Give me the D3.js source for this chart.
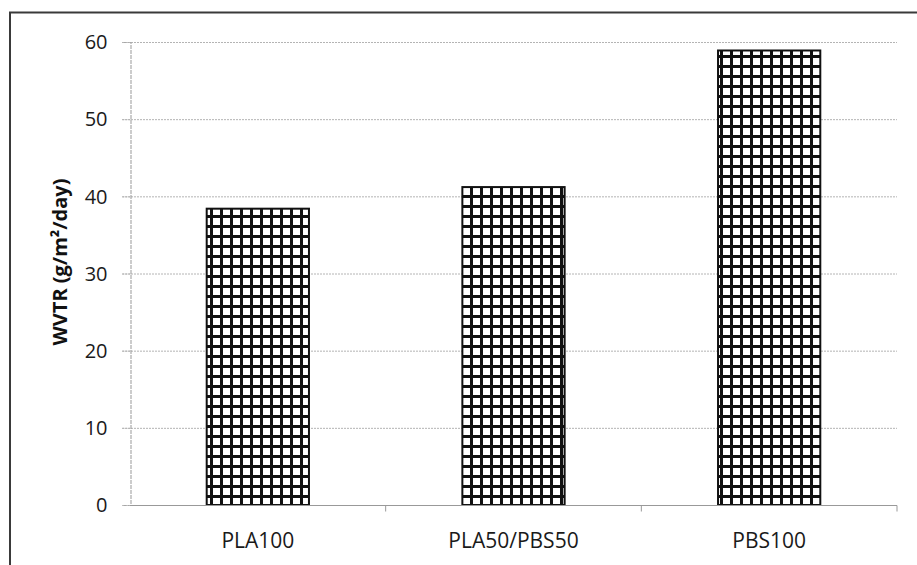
<!DOCTYPE html>
<html>
<head>
<meta charset="utf-8">
<script src="https://cdn.jsdelivr.net/npm/d3@7"></script>
<style>
  html, body { margin: 0; padding: 0; background: #fff; }
  svg { display: block; font-family: "Open Sans", "Liberation Sans", sans-serif; }
</style>
</head>
<body>
<svg id="chart" width="917" height="565"></svg>
<script>
// Water vapour transmission rate per film composition
const categories = ["PLA100", "PLA50/PBS50", "PBS100"];
const wvtr = [38.4, 41.2, 58.9];
const yTicks = [0, 10, 20, 30, 40, 50, 60];
const yLabel = "WVTR (g/m²/day)";

const svg = d3.select("#chart");
const W = 917, H = 565;
const plot = { left: 130, right: 897, top: 42, bottom: 505 };

// Outer frame: top and left edges
svg.append("path")
  .attr("d", `M10,${H} L10,12.5 L${W},12.5`)
  .attr("fill", "none").attr("stroke", "#3a3a3a").attr("stroke-width", 2);

const x = d3.scaleBand().domain(categories)
  .range([plot.left, plot.right]).paddingInner(0.6).paddingOuter(0.3);
const xOuter = d3.scaleBand().domain(categories).range([plot.left, plot.right]);
const y = d3.scaleLinear().domain([0, 60]).range([plot.bottom, plot.top]);

// Cross-hatch pattern for bars
const cell = 10;
const defs = svg.append("defs");
const pat = defs.append("pattern").attr("id", "grid")
  .attr("patternUnits", "userSpaceOnUse").attr("width", cell).attr("height", cell)
  .attr("x", 0).attr("y", plot.bottom);
pat.append("rect").attr("width", cell).attr("height", cell).attr("fill", "#fff");
pat.append("rect").attr("x", 0).attr("y", 0).attr("width", 3).attr("height", cell).attr("fill", "#111");
pat.append("rect").attr("x", 0).attr("y", 0).attr("width", cell).attr("height", 3).attr("fill", "#111");

// Horizontal gridlines
svg.append("g").selectAll("line").data(yTicks.filter(d => d > 0)).join("line")
  .attr("x1", plot.left - 8).attr("x2", plot.right)
  .attr("y1", d => y(d) + 0.5).attr("y2", d => y(d) + 0.5)
  .attr("stroke", "#b4b4b4").attr("stroke-width", 1)
  .attr("stroke-dasharray", "2,1");

// Y axis
const yAxis = d3.axisLeft(y).tickValues(yTicks).tickSize(8).tickPadding(15);
const gy = svg.append("g").attr("transform", `translate(${plot.left + 0.5},0)`).call(yAxis);
gy.select(".domain").attr("stroke", "#999").attr("stroke-dasharray", "4,1");
gy.selectAll(".tick line").attr("stroke", "#b4b4b4").attr("stroke-dasharray", "2,1");
gy.selectAll(".tick text").attr("font-size", 20).attr("fill", "#1a1a1a")
  .attr("font-family", "'Open Sans', sans-serif").attr("dy", "0.34em");

// Bars
svg.append("g").selectAll("rect").data(categories).join("rect")
  .attr("x", d => x(d))
  .attr("y", (d, i) => y(wvtr[i]))
  .attr("width", x.bandwidth())
  .attr("height", (d, i) => y(0) - y(wvtr[i]))
  .attr("fill", "url(#grid)")
  .attr("stroke", "#111").attr("stroke-width", 2);

// X axis with boundary ticks
const gx = svg.append("g").attr("transform", `translate(0,${plot.bottom + 0.5})`);
gx.append("line").attr("x1", plot.left).attr("x2", plot.right)
  .attr("stroke", "#999").attr("stroke-width", 1);
gx.selectAll("line.tk").data(categories).join("line").attr("class", "tk")
  .attr("x1", d => xOuter(d) + xOuter.bandwidth()).attr("x2", d => xOuter(d) + xOuter.bandwidth())
  .attr("y1", 0).attr("y2", 6).attr("stroke", "#999");
gx.selectAll("text").data(categories).join("text")
  .attr("x", d => x(d) + x.bandwidth() / 2).attr("y", 42)
  .attr("text-anchor", "middle").attr("font-size", 21).attr("fill", "#1a1a1a")
  .text(d => d);

// Y axis title
svg.append("text")
  .attr("transform", `translate(67,262) rotate(-90)`)
  .attr("text-anchor", "middle").attr("font-size", 20).attr("font-weight", "bold")
  .attr("fill", "#111")
  .text(yLabel);
</script>
</body>
</html>
